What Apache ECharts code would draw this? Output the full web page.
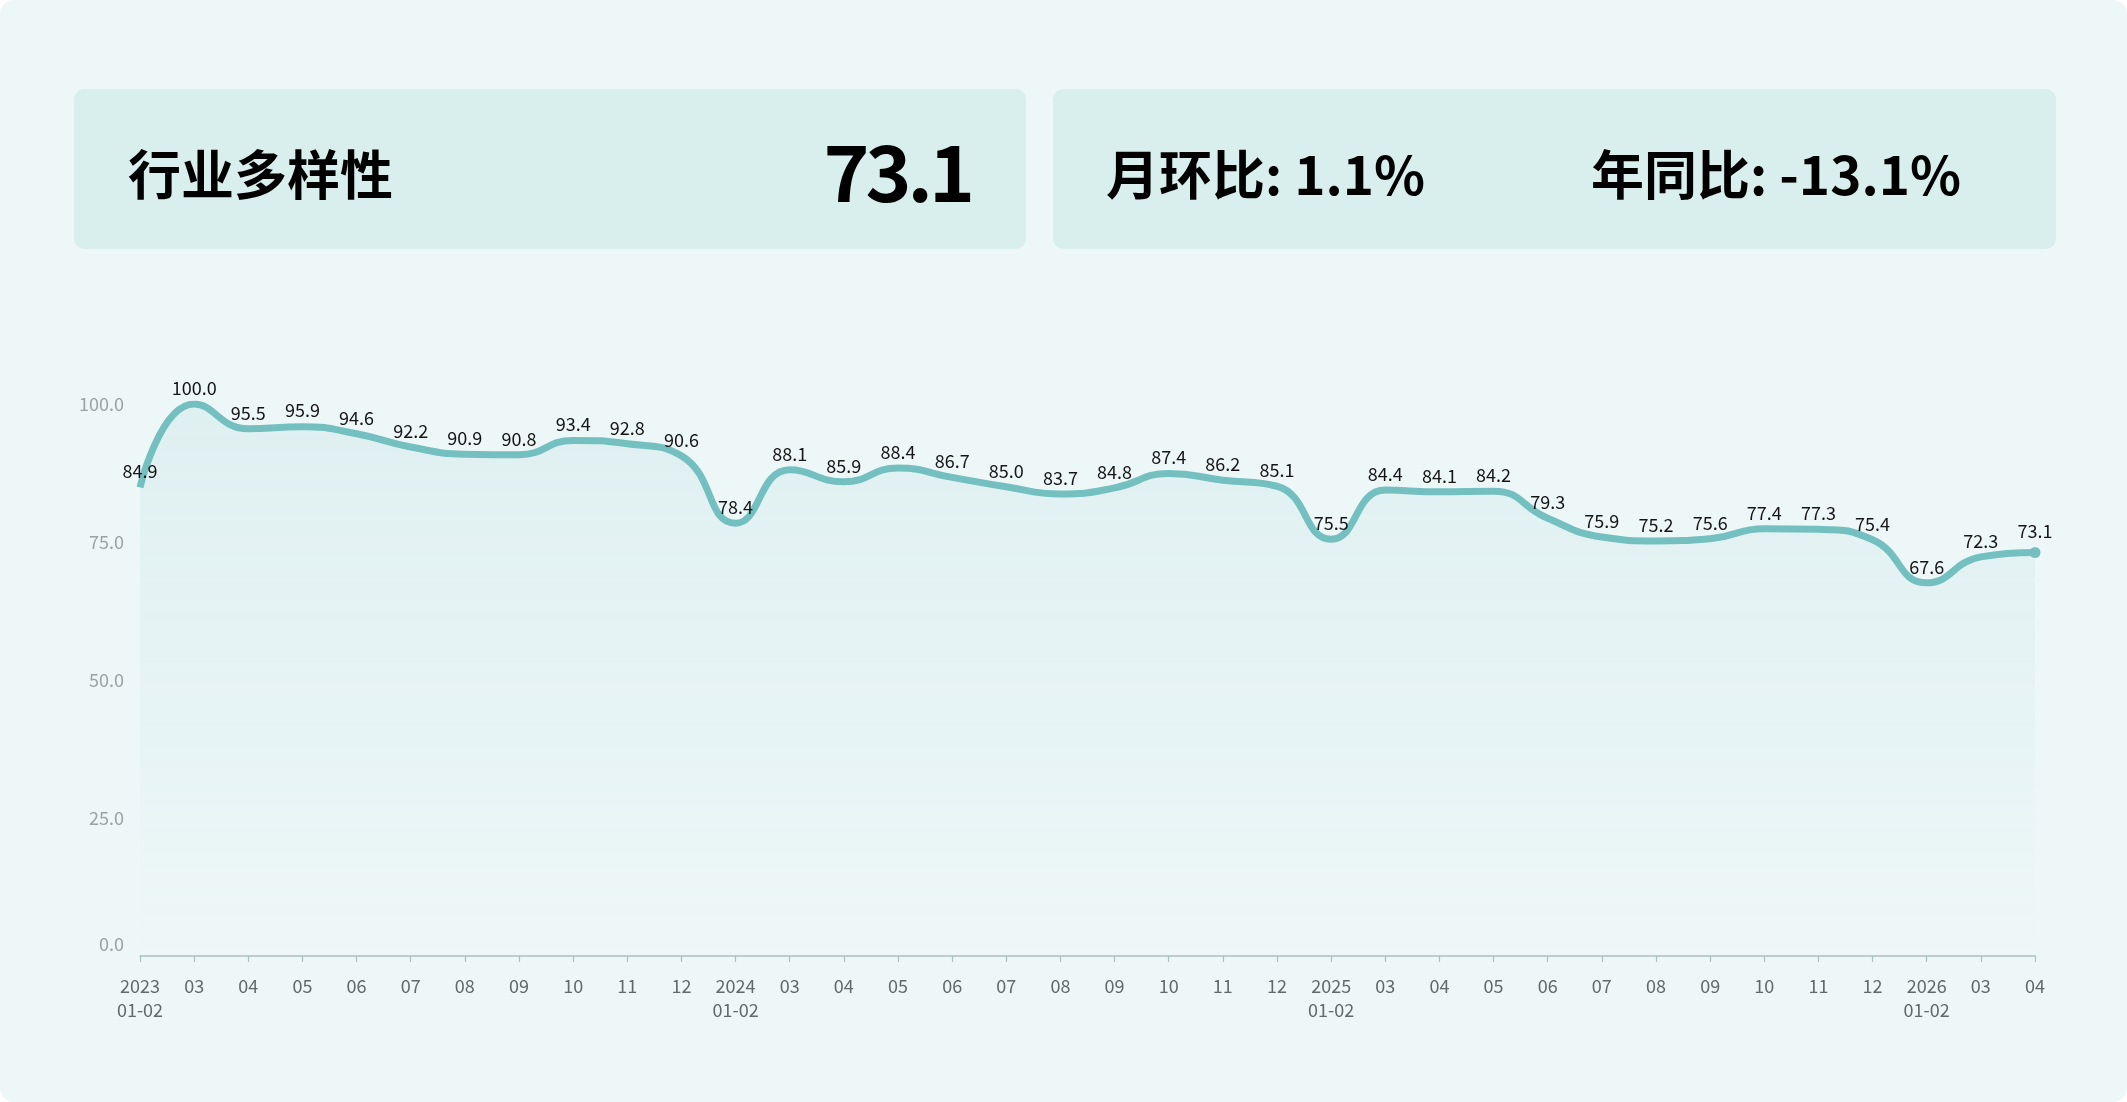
<!DOCTYPE html>
<html>
<head>
<meta charset="utf-8">
<script src="https://cdn.jsdelivr.net/npm/echarts@6/dist/echarts.min.js"></script>
<style>
  html, body { margin: 0; padding: 0; background: #ffffff; }
  #page { position: absolute; left: 0; top: 0; width: 2127px; height: 1102px; background: #eef7f8; border-radius: 14px; overflow: hidden; font-family: "Noto Sans CJK SC", "Noto Sans", sans-serif; }
  .card { position: absolute; top: 89px; height: 160px; background: #d9efed; border-radius: 10px; }
  .txt { position: absolute; font-weight: bold; color: #000; white-space: nowrap; line-height: 1; }
  #chart { position: absolute; left: 0; top: 0; width: 2127px; height: 1102px; }
</style>
</head>
<body>
<div id="page">
  <div class="card" style="left:74px; width:952px;"></div>
  <div class="card" style="left:1053px; width:1003px;"></div>
  <div class="txt" style="left:128px; top:146px; font-size:53px;">行业多样性</div>
  <div class="txt" style="right:1156px; top:129px; font-size:78px; letter-spacing:-4px;">73.1</div>
  <div class="txt" style="left:1106px; top:146px; font-size:53px;">月环比: 1.1%</div>
  <div class="txt" style="left:1591px; top:146px; font-size:53px;">年同比: -13.1%</div>
  <div id="chart"></div>
</div>
<script>
const categories = [
  '2023\n01-02','03','04','05','06','07','08','09','10','11','12',
  '2024\n01-02','03','04','05','06','07','08','09','10','11','12',
  '2025\n01-02','03','04','05','06','07','08','09','10','11','12',
  '2026\n01-02','03','04'
];
const values = [
  84.9,100.0,95.5,95.9,94.6,92.2,90.9,90.8,93.4,92.8,90.6,
  78.4,88.1,85.9,88.4,86.7,85.0,83.7,84.8,87.4,86.2,85.1,
  75.5,84.4,84.1,84.2,79.3,75.9,75.2,75.6,77.4,77.3,75.4,
  67.6,72.3,73.1
];
const yTicks = [0, 25, 50, 75, 100];

const lastIdx = values.length - 1;
const chart = echarts.init(document.getElementById('chart'), null, { renderer: 'canvas' });
chart.setOption({
  backgroundColor: 'transparent',
  animation: false,
  grid: { left: 140, right: 92, top: 404, bottom: 146 },
  xAxis: {
    type: 'category',
    data: categories,
    boundaryGap: false,
    axisLine: { show: true, lineStyle: { color: '#a9c1c1', width: 1.5 } },
    axisTick: { show: true, length: 6, lineStyle: { color: '#a9c1c1', width: 1.2 } },
    axisLabel: {
      interval: 0, margin: 18, color: '#5f6a6b', fontSize: 18, lineHeight: 24,
      fontFamily: '"Noto Sans CJK SC", "Noto Sans", sans-serif'
    },
    splitLine: { show: false }
  },
  yAxis: {
    type: 'value',
    min: yTicks[0], max: yTicks[yTicks.length - 1], interval: 25,
    axisLine: { show: false },
    axisTick: { show: false },
    splitLine: { show: false },
    axisLabel: {
      margin: 16, color: '#9aa3a3', fontSize: 18,
      fontFamily: '"Noto Sans CJK SC", "Noto Sans", sans-serif',
      formatter: function (v) { return v === 0 ? '{z|' + v.toFixed(1) + '}' : v.toFixed(1); },
      rich: { z: { color: '#9aa3a3', fontSize: 18, padding: [0, 0, 24, 0] } }
    }
  },
  series: [{
    type: 'line',
    data: values,
    smooth: 0.5,
    symbol: 'circle',
    showSymbol: true,
    symbolSize: function (v, p) { return p.dataIndex === lastIdx ? 11 : 0; },
    itemStyle: { color: '#74c0c1' },
    lineStyle: { color: '#74c0c1', width: 7 },
    areaStyle: {
      color: new echarts.graphic.LinearGradient(0, 0, 0, 1, [
        { offset: 0, color: 'rgba(116,192,193,0.16)' },
        { offset: 0.7, color: 'rgba(116,192,193,0.06)' },
        { offset: 1, color: 'rgba(116,192,193,0.0)' }
      ])
    },
    label: {
      show: true, position: 'top', distance: 7, color: '#151515', fontSize: 18,
      fontFamily: '"Noto Sans CJK SC", "Noto Sans", sans-serif',
      formatter: function (p) { return p.value.toFixed(1); }
    },
    emphasis: { disabled: true }
  }]
});
</script>
</body>
</html>
